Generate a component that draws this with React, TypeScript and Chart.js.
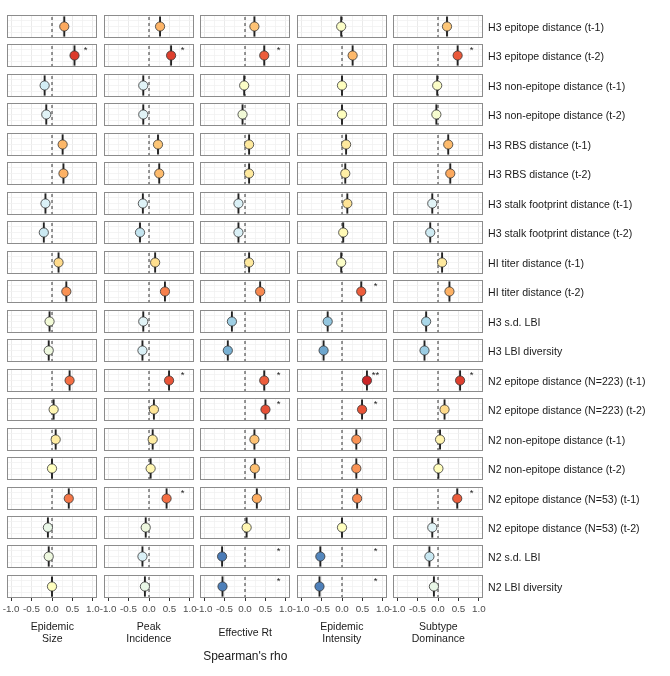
import React, { useEffect, useRef } from 'react';
import { Chart, registerables } from 'chart.js';

Chart.register(...registerables);

const rowLabels = [
  'H3 epitope distance (t-1)',
  'H3 epitope distance (t-2)',
  'H3 non-epitope distance (t-1)',
  'H3 non-epitope distance (t-2)',
  'H3 RBS distance (t-1)',
  'H3 RBS distance (t-2)',
  'H3 stalk footprint distance (t-1)',
  'H3 stalk footprint distance (t-2)',
  'HI titer distance (t-1)',
  'HI titer distance (t-2)',
  'H3 s.d. LBI',
  'H3 LBI diversity',
  'N2 epitope distance (N=223) (t-1)',
  'N2 epitope distance (N=223) (t-2)',
  'N2 non-epitope distance (t-1)',
  'N2 non-epitope distance (t-2)',
  'N2 epitope distance (N=53) (t-1)',
  'N2 epitope distance (N=53) (t-2)',
  'N2 s.d. LBI',
  'N2 LBI diversity',
];

const columnTitles = [
  ['Epidemic', 'Size'],
  ['Peak', 'Incidence'],
  ['Effective Rt'],
  ['Epidemic', 'Intensity'],
  ['Subtype', 'Dominance'],
];

const epidemicSize = [0.30, 0.55, -0.18, -0.14, 0.26, 0.28, -0.16, -0.20, 0.16, 0.35, -0.06, -0.08, 0.43, 0.04, 0.09, 0.00, 0.41, -0.10, -0.08, 0.00];
const peakIncidence = [0.27, 0.54, -0.14, -0.14, 0.22, 0.25, -0.15, -0.22, 0.15, 0.39, -0.14, -0.16, 0.49, 0.12, 0.09, 0.04, 0.43, -0.08, -0.16, -0.10];
const effectiveRt = [0.23, 0.47, -0.02, -0.06, 0.10, 0.10, -0.16, -0.16, 0.10, 0.37, -0.32, -0.42, 0.47, 0.50, 0.23, 0.24, 0.29, 0.04, -0.56, -0.55];
const epidemicIntensity = [-0.02, 0.26, 0.00, 0.00, 0.10, 0.08, 0.13, 0.03, -0.02, 0.47, -0.35, -0.45, 0.61, 0.49, 0.35, 0.35, 0.37, 0.00, -0.53, -0.55];
const subtypeDominance = [0.22, 0.48, -0.02, -0.04, 0.25, 0.30, -0.14, -0.19, 0.10, 0.28, -0.29, -0.33, 0.54, 0.16, 0.05, 0.01, 0.47, -0.14, -0.21, -0.10];

const epidemicSizeStars = ['', '*', '', '', '', '', '', '', '', '', '', '', '', '', '', '', '', '', '', ''];
const peakIncidenceStars = ['', '*', '', '', '', '', '', '', '', '', '', '', '*', '', '', '', '*', '', '', ''];
const effectiveRtStars = ['', '*', '', '', '', '', '', '', '', '', '', '', '*', '*', '', '', '', '', '*', '*'];
const epidemicIntensityStars = ['', '', '', '', '', '', '', '', '', '*', '', '', '**', '*', '', '', '', '', '*', '*'];
const subtypeDominanceStars = ['', '*', '', '', '', '', '', '', '', '', '', '', '*', '', '', '', '*', '', '', ''];

const columnValues = [epidemicSize, peakIncidence, effectiveRt, epidemicIntensity, subtypeDominance];
const columnStars = [epidemicSizeStars, peakIncidenceStars, effectiveRtStars, epidemicIntensityStars, subtypeDominanceStars];

const gridValues = [-1, -0.75, -0.5, -0.25, 0, 0.25, 0.5, 0.75, 1];
const majorTickValues = [-1, -0.5, 0, 0.5, 1];
const tickLabels = ['-1.0', '-0.5', '0.0', '0.5', '1.0'];
const axisTitle = "Spearman's rho";

// layout constants
const PANEL_W = 90;
const PANEL_H = 23;
const COL_X0 = 7.3;
const COL_STEP = 96.5;
const ROW_Y0 = 15;
const ROW_STEP = 29.47;
const PAD = 14;
const AXIS_H = 20;
const FONT = '"Liberation Sans", Arial, Helvetica, sans-serif';

// RdYlBu palette (blue -> red) for the colour scale
const palette = ['#313695', '#4575b4', '#74add1', '#abd9e9', '#e0f3f8', '#ffffbf', '#fee090', '#fdae61', '#f46d43', '#d73027', '#a50026'];
const COLOR_LIMIT = 0.72;

function hexToRgb(h: string) {
  return [parseInt(h.slice(1, 3), 16), parseInt(h.slice(3, 5), 16), parseInt(h.slice(5, 7), 16)];
}
function colorFor(v: number) {
  const t = Math.max(0, Math.min(1, (v + COLOR_LIMIT) / (2 * COLOR_LIMIT)));
  const pos = t * (palette.length - 1);
  const i = Math.min(palette.length - 2, Math.floor(pos));
  const f = pos - i;
  const a = hexToRgb(palette[i]);
  const b = hexToRgb(palette[i + 1]);
  const c = a.map((x, k) => Math.round(x + (b[k] - x) * f));
  return `rgb(${c[0]},${c[1]},${c[2]})`;
}

function isMajor(v: number) {
  return majorTickValues.some((m) => Math.abs(m - v) < 1e-9);
}

type PanelProps = { value: number; star: string; showAxis: boolean; left: number; top: number };

function Panel({ value, star, showAxis, left, top }: PanelProps) {
  const ref = useRef<HTMLCanvasElement | null>(null);
  const L = Math.round(left);
  const T = Math.round(top);
  const cw = PANEL_W + 2 * PAD;
  const ch = PAD + PANEL_H + (showAxis ? AXIS_H : PAD);

  useEffect(() => {
    if (!ref.current) return;
    const borderPlugin = {
      id: 'panelBorder',
      afterDatasetsDraw(chart: any) {
        const { ctx, chartArea } = chart;
        ctx.save();
        if (star) {
          const x = chart.scales.x.getPixelForValue(0.82);
          const y = chart.scales.y.getPixelForValue(0.74);
          ctx.fillStyle = '#1a1a1a';
          ctx.font = `9.5px ${FONT}`;
          ctx.textAlign = 'center';
          ctx.textBaseline = 'middle';
          ctx.fillText(star, x, y);
        }
        ctx.strokeStyle = '#8c8c8c';
        ctx.lineWidth = 1;
        ctx.strokeRect(chartArea.left + 0.5, chartArea.top + 0.5, chartArea.width - 1, chartArea.height - 1);
        ctx.restore();
      },
    };
    const chart = new Chart(ref.current, {
      type: 'scatter',
      data: {
        datasets: [
          {
            data: [{ x: value, y: 0.5 }],
            pointRadius: 4.6,
            pointBackgroundColor: colorFor(value),
            pointBorderColor: '#333333',
            pointBorderWidth: 0.8,
          },
          {
            data: [{ x: value, y: 0.06 }, { x: value, y: 0.94 }],
            showLine: true,
            borderColor: '#222222',
            borderWidth: 1.9,
            pointRadius: 0,
          },
          {
            data: [{ x: 0, y: 0 }, { x: 0, y: 1 }],
            showLine: true,
            borderColor: '#333333',
            borderWidth: 1,
            borderDash: [3, 3],
            pointRadius: 0,
          },
        ],
      } as any,
      options: {
        responsive: false,
        animation: false,
        events: [],
        layout: { padding: { left: PAD, right: PAD, top: PAD, bottom: showAxis ? 0 : PAD } },
        plugins: { legend: { display: false }, tooltip: { enabled: false } },
        scales: {
          x: {
            type: 'linear',
            min: -1.1,
            max: 1.1,
            afterBuildTicks: (s: any) => {
              s.ticks = gridValues.map((v) => ({ value: v }));
            },
            afterFit: (s: any) => {
              s.height = showAxis ? AXIS_H : 0;
            },
            border: { display: false },
            grid: {
              display: true,
              drawTicks: showAxis,
              tickLength: 3,
              tickWidth: 1,
              tickColor: (ctx: any) => (ctx.tick && isMajor(ctx.tick.value) ? '#333333' : 'rgba(0,0,0,0)'),
              color: (ctx: any) => (ctx.tick && isMajor(ctx.tick.value) ? '#e4e4e4' : '#f1f1f1'),
              lineWidth: 0.8,
            },
            ticks: {
              display: showAxis,
              autoSkip: false,
              maxRotation: 0,
              padding: 2,
              color: '#4d4d4d',
              font: { family: FONT, size: 9.8 },
              callback: (v: any) => {
                const idx = majorTickValues.findIndex((m) => Math.abs(m - Number(v)) < 1e-9);
                return idx >= 0 ? tickLabels[idx] : '';
              },
            },
          },
          y: {
            type: 'linear',
            min: 0,
            max: 1,
            afterBuildTicks: (s: any) => {
              s.ticks = [0.25, 0.5, 0.75].map((v) => ({ value: v }));
            },
            afterFit: (s: any) => {
              s.width = 0;
            },
            border: { display: false },
            grid: { display: true, drawTicks: false, color: '#f1f1f1', lineWidth: 0.8 },
            ticks: { display: false },
          },
        },
      } as any,
      plugins: [borderPlugin],
    });
    return () => chart.destroy();
  }, [value, star, showAxis]);

  return (
    <canvas
      ref={ref}
      width={cw}
      height={ch}
      style={{ position: 'absolute', left: L - PAD, top: T - PAD, width: cw, height: ch }}
    />
  );
}

export default function App() {
  const nRows = rowLabels.length;
  return (
    <div style={{ position: 'absolute', left: 0, top: 0, width: 670, height: 676, background: '#ffffff', fontFamily: FONT, overflow: 'hidden' }}>
      {columnValues.map((vals, c) =>
        vals.map((v, r) => (
          <Panel
            key={`${c}-${r}`}
            value={v}
            star={columnStars[c][r]}
            showAxis={r === nRows - 1}
            left={COL_X0 + c * COL_STEP}
            top={ROW_Y0 + r * ROW_STEP}
          />
        ))
      )}
      {rowLabels.map((lab, r) => (
        <div
          key={lab}
          style={{
            position: 'absolute',
            left: 488,
            top: Math.round(ROW_Y0 + r * ROW_STEP) + PANEL_H / 2,
            transform: 'translateY(-50%)',
            fontSize: 10.6,
            color: '#1a1a1a',
            whiteSpace: 'nowrap',
            lineHeight: '12px',
          }}
        >
          {lab}
        </div>
      ))}
      {columnTitles.map((lines, c) => (
        <div
          key={c}
          style={{
            position: 'absolute',
            left: COL_X0 + c * COL_STEP - 10,
            width: PANEL_W + 20,
            top: 621,
            height: 23,
            display: 'flex',
            flexDirection: 'column',
            justifyContent: 'center',
            alignItems: 'center',
            fontSize: 10.5,
            lineHeight: '11.5px',
            color: '#1a1a1a',
            textAlign: 'center',
          }}
        >
          {lines.map((l) => (
            <div key={l}>{l}</div>
          ))}
        </div>
      ))}
      <div
        style={{
          position: 'absolute',
          left: COL_X0 + 2 * COL_STEP + PANEL_W / 2 - 60,
          width: 120,
          top: 649,
          textAlign: 'center',
          fontSize: 12,
          lineHeight: '14px',
          color: '#1a1a1a',
        }}
      >
        {axisTitle}
      </div>
    </div>
  );
}
